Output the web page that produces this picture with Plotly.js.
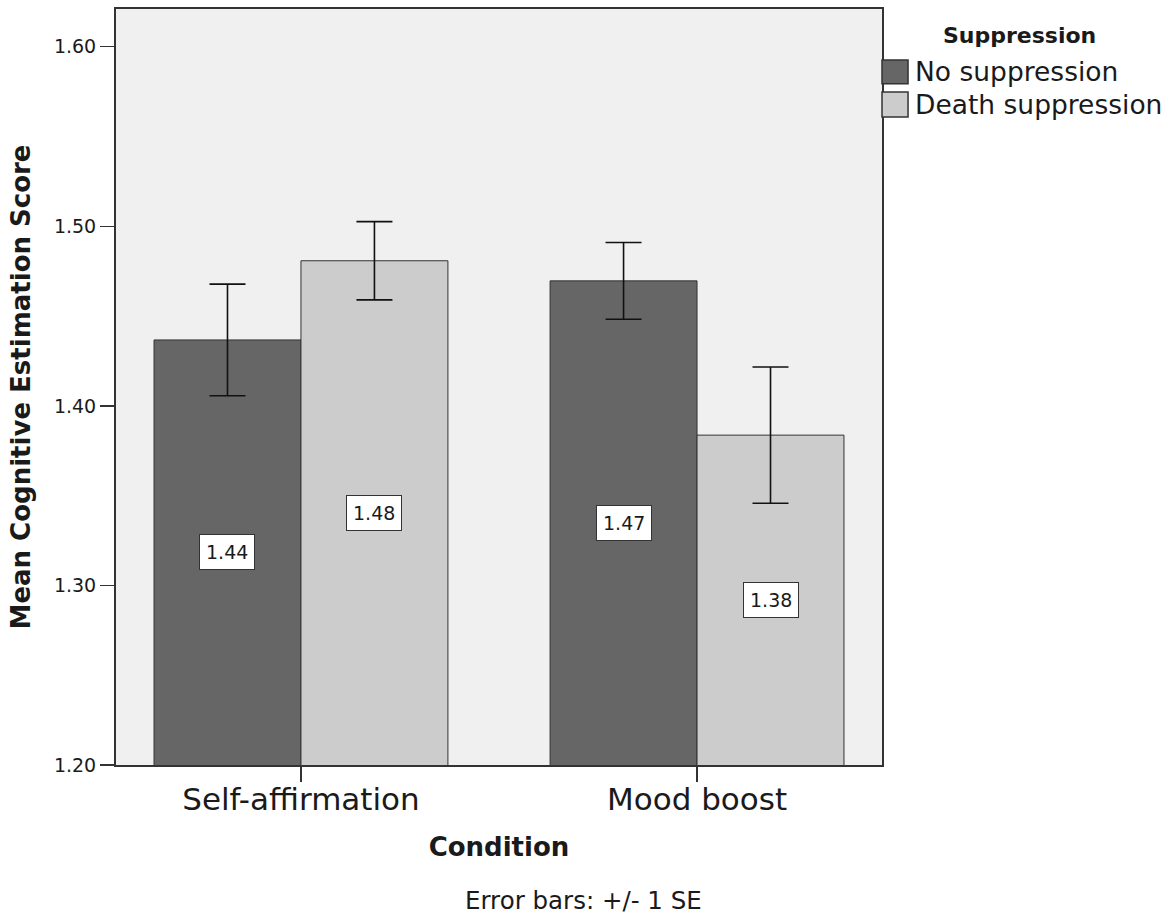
<!DOCTYPE html>
<html>
<head>
<meta charset="utf-8">
<script src="https://cdn.plot.ly/plotly-3.0.1.min.js"></script>
<style>html,body{margin:0;padding:0;background:#fff;}#chart{width:1176px;height:916px;}</style>
</head>
<body>
<div id="chart"></div>
<script>
const categories = ['Self-affirmation', 'Mood boost'];
const seriesNames = ['No suppression', 'Death suppression'];
const noSuppression = [1.4367, 1.4696];
const deathSuppression = [1.4808, 1.3837];
const noSuppressionSE = [0.0311, 0.0214];
const deathSuppressionSE = [0.0218, 0.0379];
const yTicks = [1.20, 1.30, 1.40, 1.50, 1.60];
const legendTitle = 'Suppression';
const footnote = 'Error bars: +/- 1 SE';

const FONT = 'DejaVu Sans, Verdana, sans-serif';
const TXT = '#1a1a1a';
const colors = ['#666666', '#cccccc'];
const bargap = 0.258;
const yRange = [1.2, 1.621];

const seriesValues = [noSuppression, deathSuppression];
const seriesSE = [noSuppressionSE, deathSuppressionSE];

const traces = seriesValues.map((vals, s) => ({
  type: 'bar',
  name: seriesNames[s],
  x: categories,
  y: vals,
  marker: {color: colors[s], line: {color: '#333333', width: 1}},
  error_y: {type: 'data', array: seriesSE[s], visible: true, color: '#111111', thickness: 1.6, width: 18},
  showlegend: false,
  hoverinfo: 'x+y'
}));

const annotations = [];
const barW = (1 - bargap) / 2;
seriesValues.forEach((vals, s) => {
  vals.forEach((v, i) => {
    annotations.push({
      x: i + (s - 0.5) * barW,
      y: (yRange[0] + v) / 2,
      xref: 'x', yref: 'y',
      text: v.toFixed(2),
      showarrow: false,
      bgcolor: '#ffffff',
      bordercolor: '#333333',
      borderwidth: 1,
      borderpad: 6,
      font: {family: FONT, size: 19, color: TXT}
    });
  });
});

// legend (drawn manually for SPSS-style large swatches)
annotations.push({
  xref: 'paper', yref: 'paper', x: 1.18, y: 0.9656,
  text: '<b>' + legendTitle + '</b>', showarrow: false,
  xanchor: 'center', yanchor: 'middle',
  font: {family: FONT, size: 22, color: TXT}
});
const shapes = [];
const legY = [[0.9325, 0.9011], [0.8902, 0.8571]];
seriesNames.forEach((n, s) => {
  shapes.push({
    type: 'rect', xref: 'paper', yref: 'paper',
    x0: 1.0, x1: 1.034, y0: legY[s][1], y1: legY[s][0],
    fillcolor: colors[s], line: {color: '#333333', width: 1.5}
  });
  annotations.push({
    xref: 'paper', yref: 'paper', x: 1.0405, y: (legY[s][0] + legY[s][1]) / 2,
    text: n, showarrow: false, xanchor: 'left', yanchor: 'middle',
    font: {family: FONT, size: 26.5, color: TXT}
  });
});

annotations.push({
  xref: 'paper', yref: 'paper', x: 0.6097, y: -0.1786,
  text: footnote, showarrow: false, xanchor: 'center', yanchor: 'middle',
  font: {family: FONT, size: 24.5, color: TXT}
});

const layout = {
  width: 1176, height: 916,
  margin: {l: 116, r: 294, t: 9, b: 151},
  paper_bgcolor: '#ffffff',
  plot_bgcolor: '#f0f0f0',
  font: {family: FONT, color: TXT},
  barmode: 'group',
  bargap: bargap,
  bargroupgap: 0,
  xaxis: {
    type: 'category',
    range: [-0.467, 1.467],
    showline: true, mirror: true, linecolor: '#333333', linewidth: 2,
    ticks: 'outside', ticklen: 15, tickwidth: 1.5, tickcolor: '#333333',
    ticklabelstandoff: -9,
    tickfont: {family: FONT, size: 31, color: TXT},
    showgrid: false, zeroline: false,
    title: {text: 'Condition', standoff: 22, font: {family: FONT, size: 26, color: TXT, weight: 'bold'}}
  },
  yaxis: {
    range: yRange,
    tickvals: yTicks,
    ticktext: yTicks.map(t => t.toFixed(2)),
    showline: true, mirror: true, linecolor: '#333333', linewidth: 2,
    ticks: 'outside', ticklen: 14, tickwidth: 1.5, tickcolor: '#333333',
    tickfont: {family: FONT, size: 19, color: TXT},
    showgrid: false, zeroline: false,
    title: {text: 'Mean Cognitive Estimation Score', standoff: 16, font: {family: FONT, size: 26, color: TXT, weight: 'bold'}}
  },
  annotations: annotations,
  shapes: shapes
};

Plotly.newPlot('chart', traces, layout, {displayModeBar: false, staticPlot: true});
</script>
</body>
</html>
